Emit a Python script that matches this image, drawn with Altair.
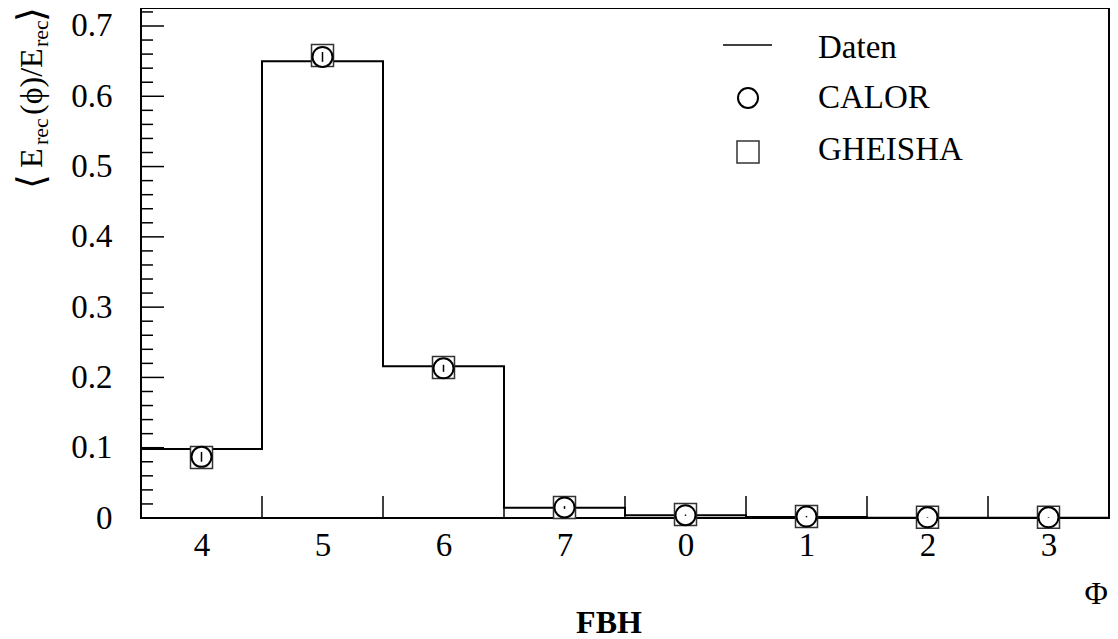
import altair as alt
import pandas as pd

# ---------------- data ----------------
categories = ["4", "5", "6", "7", "0", "1", "2", "3"]
daten = [0.098, 0.650, 0.216, 0.0147, 0.004, 0.0015, 0.0005, 0.0003]
calor = [0.087, 0.656, 0.213, 0.015, 0.004, 0.002, 0.001, 0.001]
gheisha = [0.086, 0.658, 0.214, 0.015, 0.005, 0.002, 0.001, 0.001]
calor_err = [0.007, 0.007, 0.005, 0.002, 0.001, 0.001, 0.0005, 0.0005]
y_major = [0.0, 0.1, 0.2, 0.3, 0.4, 0.5, 0.6, 0.7]
y_minor = [round(0.02 * k, 2) for k in range(1, 37) if k % 5 != 0]
x_edges = [1, 2, 3, 4, 5, 6, 7]

Y_MAX = 0.7256
W, H = 968, 510
FONT = "Liberation Serif"
TICK_FS = 33
LEG_FS = 33

bins = pd.DataFrame({
    "idx": [i + 0.5 for i in range(len(categories))],
    "cat": categories,
    "calor": calor,
    "gheisha": gheisha,
    "lo": [c - e for c, e in zip(calor, calor_err)],
    "hi": [c + e for c, e in zip(calor, calor_err)],
})
step = pd.DataFrame({"edge": list(range(len(daten) + 1)), "val": daten + [daten[-1]]})

xs = alt.Scale(domain=[0, len(categories)], nice=False, zero=False)
ys = alt.Scale(domain=[0, Y_MAX], nice=False, zero=False)

cat_js = "[" + ",".join("'%s'" % c for c in categories) + "]"

x_axis = alt.Axis(
    values=[i + 0.5 for i in range(len(categories))],
    labelExpr=cat_js + "[floor(datum.value)]",
    ticks=False, tickSize=0, domain=False, grid=False, title=None,
    labelFont=FONT, labelFontSize=TICK_FS, labelColor="black",
    labelPadding=37, labelBaseline="alphabetic")
y_axis = alt.Axis(
    values=y_major,
    labelExpr="datum.value == 0 ? '0' : format(datum.value, '.1f')",
    ticks=False, tickSize=0, domain=False, grid=False, title=None,
    labelFont=FONT, labelFontSize=TICK_FS, labelColor="black",
    labelPadding=29, labelAlign="right", labelBaseline="middle")

line = alt.Chart(step).mark_line(interpolate="step-after", color="black", strokeWidth=2).encode(
    x=alt.X("edge:Q", scale=xs, axis=x_axis),
    y=alt.Y("val:Q", scale=ys, axis=y_axis),
)

ymaj = alt.Chart(pd.DataFrame({"v": y_major})).mark_rule(color="black", strokeWidth=1.5).encode(
    y=alt.Y("v:Q", scale=ys), x=alt.value(0), x2=alt.value(23))
ymin = alt.Chart(pd.DataFrame({"v": y_minor})).mark_rule(color="black", strokeWidth=1.5).encode(
    y=alt.Y("v:Q", scale=ys), x=alt.value(0), x2=alt.value(12))
xt = alt.Chart(pd.DataFrame({"e": x_edges})).mark_rule(color="black", strokeWidth=1.5).encode(
    x=alt.X("e:Q", scale=xs), y=alt.value(H), y2=alt.value(H - 22))

sq = alt.Chart(bins).mark_point(shape="square", size=484, filled=True, fill="white",
                                 stroke="#333333", strokeWidth=1.5, opacity=1).encode(
    x=alt.X("idx:Q", scale=xs), y=alt.Y("gheisha:Q", scale=ys))
ci = alt.Chart(bins).mark_point(shape="circle", size=400, filled=True, fill="white",
                                 stroke="black", strokeWidth=2, opacity=1).encode(
    x=alt.X("idx:Q", scale=xs), y=alt.Y("calor:Q", scale=ys))
err = alt.Chart(bins).mark_rule(color="black", strokeWidth=1.5).encode(
    x=alt.X("idx:Q", scale=xs), y=alt.Y("lo:Q", scale=ys), y2="hi:Q")

one = pd.DataFrame({"a": [0]})


def txt(t, x, y, size=LEG_FS, align="left", baseline="alphabetic", angle=0, weight="normal"):
    return alt.Chart(one).mark_text(text=t, font=FONT, fontSize=size, align=align,
                                    baseline=baseline, angle=angle, fontWeight=weight,
                                    color="black").encode(x=alt.value(x), y=alt.value(y))


# legend
leg_line = alt.Chart(one).mark_rule(color="black", strokeWidth=1.5).encode(
    x=alt.value(582), x2=alt.value(631), y=alt.value(37))
leg_ci = alt.Chart(one).mark_point(shape="circle", size=400, filled=False, stroke="black",
                                   strokeWidth=2, opacity=1).encode(x=alt.value(607), y=alt.value(90))
leg_sq = alt.Chart(one).mark_point(shape="square", size=484, filled=False, stroke="#333333",
                                   strokeWidth=1.5, opacity=1).encode(x=alt.value(607), y=alt.value(144))
legend = [leg_line, leg_ci, leg_sq,
          txt("Daten", 677, 50), txt("CALOR", 677, 100), txt("GHEISHA", 677, 152)]

# y-axis title with subscripts (rotated)
ytitle = [
    txt("⟨", -97, 181, size=38, angle=270),
    txt("E", -99, 160, size=32, angle=270),
    txt("rec", -93, 137, size=22, angle=270),
    txt("(ϕ)/E", -99, 107, size=32, angle=270),
    txt("rec", -93, 39, size=22, angle=270),
    txt("⟩", -97, 14, size=38, angle=270),
]

others = [txt("Φ", 967, 596, size=32, align="right"),
          txt("FBH", 468, 625, size=32, align="center", weight="bold")]

chart = alt.layer(line, ymaj, ymin, xt, sq, ci, err, *legend, *ytitle, *others).properties(
    width=W, height=H,
    padding={"left": 133, "top": 0, "right": 1, "bottom": 124},
    autosize=alt.AutoSizeParams(type="none"),
    background="white",
).configure_view(stroke="black", strokeWidth=2)

chart.save("out.html", embed_options={"renderer": "svg", "actions": False})
